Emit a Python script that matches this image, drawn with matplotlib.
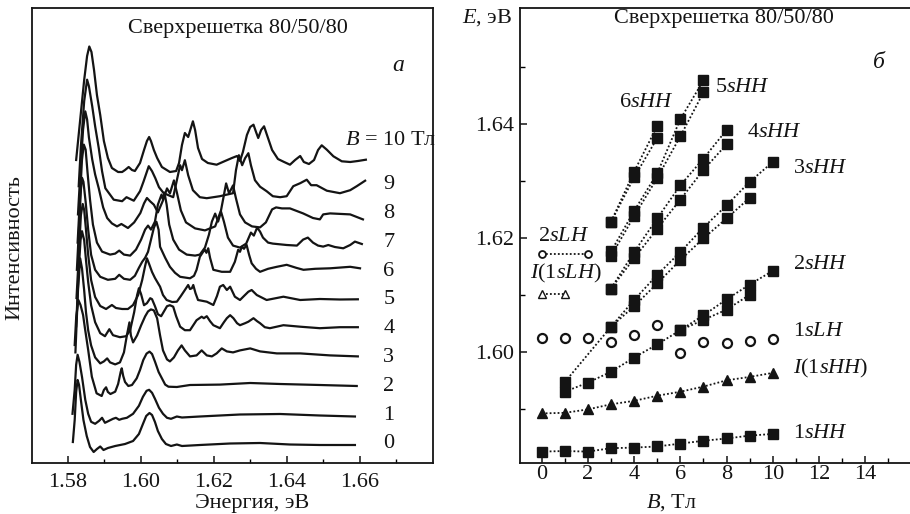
import matplotlib
matplotlib.use("Agg")
import matplotlib.pyplot as plt
import numpy as np

plt.rcParams['font.family'] = ['Liberation Serif', 'DejaVu Serif']
plt.rcParams['mathtext.fontset'] = 'custom'
plt.rcParams['mathtext.rm'] = 'Liberation Serif'
plt.rcParams['mathtext.it'] = 'Liberation Serif:italic'

# ---------------- panel a: spectra (energy, eV ; intensity, arb. units) ----------------
E_B0 = [1.5814,1.5819,1.5823,1.5827,1.5831,1.5836,1.5843,1.5852,1.5861,1.5871,1.5880,1.5889,1.5898,1.5910,1.5930,1.5957,1.5979,1.5995,1.6006,1.6015,1.6024,1.6031,1.6039,1.6047,1.6058,1.6069,1.6083,1.6099,1.6113,1.6162,1.6245,1.6327,1.6409,1.6491,1.6587]
I_B0 = [3,25,53,65,60,45,25,9,-2,-7,-4,-1.5,-5,-3,-1,1,4,11,21,29,32,30,23,14,6,1,-1,0.5,-1,0,1.5,2,0.5,0,0]

E_B1 = [1.5813,1.5819,1.5823,1.5827,1.5832,1.5839,1.5848,1.5856,1.5864,1.5875,1.5886,1.5894,1.5902,1.5913,1.5924,1.5932,1.5941,1.5949,1.5962,1.5979,1.5995,1.6006,1.6016,1.6023,1.6031,1.6039,1.6050,1.6061,1.6072,1.6083,1.6099,1.6113,1.6162,1.6272,1.6382,1.6491,1.6587]
I_B1 = [3,27,52,62,55,40,17,3,-5,-7,-4,-1,-6,-4,-2,-1,-3,-2,-1,3,11,20,26,27,24,18,9,3,-1,-2,0.3,-0.7,0.3,2.3,2.8,1.3,0.3]

E_B2 = [1.5819,1.5823,1.5829,1.5835,1.5842,1.5847,1.5856,1.5866,1.5879,1.5893,1.5899,1.5905,1.5910,1.5917,1.5930,1.5938,1.5945,1.5948,1.5952,1.5957,1.5966,1.5976,1.5989,1.5998,1.6007,1.6016,1.6024,1.6031,1.6039,1.6049,1.6058,1.6067,1.6076,1.6099,1.6135,1.6217,1.6300,1.6382,1.6491,1.6592]
I_B2 = [43.6,70.6,88.6,83.6,73.6,60.6,38.6,11.9,-4.7,-7.4,-1.4,1.3,-3.4,-5.4,-3.1,4.6,16.6,20.3,12.6,6.6,2.6,3.6,10.3,18.6,28.6,35,37,34.6,27,16.6,10.3,4,1.9,1.6,3.6,4,5.6,4.6,3.6,2.6]

E_B3 = [1.5821,1.5828,1.5834,1.5839,1.5845,1.5850,1.5856,1.5864,1.5875,1.5889,1.5899,1.5908,1.5916,1.5930,1.5943,1.5954,1.5962,1.5969,1.5973,1.5979,1.5990,1.6001,1.6012,1.6020,1.6028,1.6036,1.6045,1.6053,1.6061,1.6072,1.6080,1.6091,1.6102,1.6112,1.6121,1.6135,1.6153,1.6167,1.6181,1.6195,1.6208,1.6222,1.6236,1.6253,1.6272,1.6300,1.6327,1.6373,1.6437,1.6519,1.6595]
I_B3 = [8,70,102,92,70,48,30,15,3,-3,-1,2,-2,-4,-2,8,25,38,25,18,25,35,44,49,51,50,42,25,10,1,-1,3,10,15,10,4,5,10,5,4,7,12,9,8,10,12,9,7,7,5,4]

E_B4 = [1.5823,1.5830,1.5835,1.5839,1.5845,1.5850,1.5856,1.5864,1.5875,1.5889,1.5902,1.5914,1.5924,1.5943,1.5960,1.5971,1.5982,1.5990,1.5995,1.6001,1.6009,1.6017,1.6026,1.6031,1.6039,1.6047,1.6056,1.6064,1.6072,1.6080,1.6089,1.6097,1.6108,1.6121,1.6135,1.6153,1.6167,1.6173,1.6181,1.6190,1.6199,1.6217,1.6228,1.6236,1.6245,1.6254,1.6264,1.6272,1.6286,1.6295,1.6309,1.6319,1.6327,1.6340,1.6354,1.6391,1.6437,1.6491,1.6546,1.6595]
I_B4 = [6,62,92,101,92,72,50,27,10,-1,-4,3,-3,-5,-4,2,20,37,44,38,27,29,34,33,26,18,16,21,26,27,25.5,16,5.5,2,2,12,15.5,14,16,11,7,4,10,14,17,14,9,7,9,10.5,14,11,9,5,4,7,5.5,4,5,5]

E_B5 = [1.5824,1.5831,1.5836,1.5841,1.5845,1.5850,1.5856,1.5864,1.5875,1.5889,1.5905,1.5921,1.5932,1.5949,1.5965,1.5979,1.5993,1.6004,1.6012,1.6017,1.6023,1.6031,1.6039,1.6047,1.6053,1.6061,1.6071,1.6086,1.6099,1.6110,1.6121,1.6130,1.6135,1.6140,1.6144,1.6150,1.6157,1.6181,1.6199,1.6209,1.6217,1.6226,1.6236,1.6245,1.6258,1.6272,1.6283,1.6295,1.6304,1.6318,1.6345,1.6391,1.6437,1.6491,1.6546,1.6595]
I_B5 = [6,54,89,100,94,74,49,24,7,-2,-5,-1,-4,-5,-5,-1,9,24,38,45.7,40,32,26,21,17.3,9,4,2,2.3,8,14,19,15,15.7,19,11,4,2.3,-1,8,17.3,19,14,17.3,7.3,4,8,12.3,14,9,4,7.3,4,5,4.5,4.7]

E_B6 = [1.5825,1.5832,1.5836,1.5839,1.5843,1.5849,1.5856,1.5864,1.5875,1.5889,1.5910,1.5930,1.5941,1.5954,1.5971,1.5984,1.5995,1.6004,1.6012,1.6020,1.6028,1.6036,1.6043,1.6049,1.6053,1.6067,1.6080,1.6094,1.6108,1.6135,1.6146,1.6153,1.6162,1.6171,1.6176,1.6180,1.6185,1.6190,1.6199,1.6222,1.6245,1.6258,1.6267,1.6272,1.6277,1.6283,1.6290,1.6297,1.6304,1.6316,1.6327,1.6349,1.6373,1.6400,1.6426,1.6446,1.6478,1.6519,1.6574,1.6601]
I_B6 = [6,56,86,98,94,74,46,21,6,-1,-4,-3,1,-3,-4,0,8,14,18,24,36,48,54,46,29,18,9,3,-1,-2.5,0,6,19,24,26,23,27.5,18,6,4,4,14,26,24,29,27,31,21,12.5,7,4,7,9,11,8,6,7,7.5,9,7.5]

E_B7 = [1.5827,1.5834,1.5839,1.5844,1.5849,1.5854,1.5861,1.5869,1.5880,1.5894,1.5916,1.5930,1.5941,1.5954,1.5971,1.5987,1.6001,1.6012,1.6020,1.6028,1.6039,1.6047,1.6057,1.6061,1.6065,1.6071,1.6078,1.6089,1.6105,1.6126,1.6149,1.6162,1.6176,1.6187,1.6195,1.6204,1.6212,1.6220,1.6228,1.6239,1.6253,1.6272,1.6289,1.6302,1.6310,1.6319,1.6327,1.6335,1.6349,1.6362,1.6400,1.6428,1.6445,1.6458,1.6472,1.6486,1.6500,1.6514,1.6532,1.6555,1.6574,1.6587,1.6606]
I_B7 = [5,53,88,103,98,76,48,23,5,-4,-7,-6,-3,-7,-8,-2,8,18,22,18,26,43,53,48,55,43,23,8,-2,-7,-8,-7,0,13,26,34,26,36,26,10,2,0,4,15,12,20,16,10,5,4,2.6,2,8,10,5,2,1,2.6,0.6,-0.7,2.6,6,3.6]

E_B8 = [1.5828,1.5835,1.5842,1.5848,1.5853,1.5858,1.5867,1.5875,1.5885,1.5897,1.5908,1.5921,1.5935,1.5947,1.5965,1.5982,1.5999,1.6009,1.6017,1.6026,1.6036,1.6047,1.6061,1.6072,1.6080,1.6091,1.6099,1.6110,1.6124,1.6149,1.6176,1.6204,1.6220,1.6234,1.6242,1.6253,1.6261,1.6272,1.6286,1.6305,1.6327,1.6343,1.6360,1.6371,1.6387,1.6409,1.6445,1.6472,1.6491,1.6500,1.6519,1.6574,1.6609]
I_B8 = [5,50,90,108,100,82,60,45,31,12,1.4,-4,-7,-4.6,-8.6,-3,6.4,16,21.4,18,14.7,7,19,31,26,39,27,9,-3,-9,-11,-7,9,36,26,34,21,5,-3,-7,-8,-3,10,12,11,11,6,1.4,0,5,6,5,0]

E_B9 = [1.5830,1.5836,1.5845,1.5853,1.5858,1.5867,1.5875,1.5885,1.5894,1.5903,1.5926,1.5949,1.5961,1.5981,1.5998,1.6008,1.6022,1.6031,1.6040,1.6050,1.6063,1.6089,1.6099,1.6108,1.6113,1.6121,1.6130,1.6143,1.6162,1.6181,1.6217,1.6253,1.6261,1.6269,1.6278,1.6286,1.6295,1.6302,1.6313,1.6327,1.6345,1.6362,1.6382,1.6400,1.6418,1.6437,1.6455,1.6467,1.6482,1.6510,1.6546,1.6574,1.6592,1.6615]
I_B9 = [5,45,90,111.5,105,85,65,43,20,3,-8.5,-10,-6,-9.5,0,10,25,20,13,4,-2,-6,11,26,21,31,16,1,-6,-7,-5,-2,21,36,26,33,38,26,11,4.5,0,-5,-6,-5,5,8,11.5,6,6,0.5,-2,1,5,10.5]

E_B10 = [1.5823,1.5834,1.5845,1.5853,1.5859,1.5865,1.5872,1.5880,1.5889,1.5899,1.5910,1.5921,1.5938,1.5949,1.5957,1.5967,1.5976,1.5984,1.5998,1.6009,1.6017,1.6023,1.6028,1.6036,1.6045,1.6058,1.6080,1.6097,1.6105,1.6113,1.6121,1.6130,1.6143,1.6149,1.6157,1.6168,1.6184,1.6208,1.6231,1.6250,1.6264,1.6272,1.6280,1.6291,1.6300,1.6309,1.6316,1.6322,1.6330,1.6338,1.6346,1.6360,1.6376,1.6393,1.6409,1.6423,1.6437,1.6447,1.6461,1.6475,1.6486,1.6496,1.6510,1.6528,1.6551,1.6574,1.6595,1.6617]
I_B10 = [3,43,83,107,116.5,111,93,68,48,22,5,-5,-9,-9,-7,-4,-7,-8,0,13,22,26,22,13,5,-4,-9,-8,0,18,30,26,41.7,33,15,4,0,-1.7,2,5,7,2,11,28,36,38.3,31,25,33,36.7,28,13,4,1,-1.7,3,7,1,-1,3,13,17.7,13.3,6.7,1.7,1,2,3.3]

field_labels = ['0', '1', '2', '3', '4', '5', '6', '7', '8', '9']

# ---------------- panel б: level energies vs B ----------------
B_1sHH = [0, 1, 2, 3, 4, 5, 6, 7, 8, 9, 10]
E_1sHH = [1.5825, 1.5826, 1.5825, 1.5831, 1.5832, 1.5834, 1.5839, 1.5844, 1.5848, 1.5853, 1.5856]
B_I1sHH = [0, 1, 2, 3, 4, 5, 6, 7, 8, 9, 10]
E_I1sHH = [1.5892, 1.5893, 1.5899, 1.5908, 1.5914, 1.5923, 1.5930, 1.5939, 1.5950, 1.5956, 1.5963]
B_1sLH = [0, 1, 2, 3, 4, 5, 6, 7, 8, 9, 10]
E_1sLH = [1.6024, 1.6025, 1.6024, 1.6018, 1.6029, 1.6047, 1.5998, 1.6018, 1.6015, 1.6019, 1.6022]
B_2sLH = [0, 2]
E_2sLH = [1.6172, 1.6172]
B_I1sLH = [0, 1]
E_I1sLH = [1.6101, 1.6101]
B_2sHH_a = [1, 2, 3, 4, 5, 6, 7, 8, 9, 10]
E_2sHH_a = [1.5930, 1.5946, 1.5965, 1.5990, 1.6013, 1.6038, 1.6064, 1.6092, 1.6118, 1.6142]
B_2sHH_b = [6, 7, 8, 9]
E_2sHH_b = [1.6038, 1.6056, 1.6074, 1.6100]
B_3sHH_a = [1, 3, 4, 5, 6, 7, 8, 9, 10]
E_3sHH_a = [1.5947, 1.6044, 1.6091, 1.6135, 1.6175, 1.6218, 1.6257, 1.6298, 1.6333]
B_3sHH_b = [3, 4, 5, 6, 7, 8, 9]
E_3sHH_b = [1.6044, 1.6080, 1.6120, 1.6161, 1.6199, 1.6234, 1.6270]
B_4sHH_a = [3, 4, 5, 6, 7, 8]
E_4sHH_a = [1.6111, 1.6175, 1.6234, 1.6292, 1.6339, 1.6389]
B_4sHH_b = [3, 4, 5, 6, 7, 8]
E_4sHH_b = [1.6111, 1.6164, 1.6216, 1.6267, 1.6319, 1.6364]
B_5sHH_a = [3, 4, 5, 6, 7]
E_5sHH_a = [1.6176, 1.6247, 1.6313, 1.6408, 1.6476]
B_5sHH_b = [3, 4, 5, 6, 7]
E_5sHH_b = [1.6168, 1.6238, 1.6305, 1.6378, 1.6455]
B_6sHH_a = [3, 4, 5]
E_6sHH_a = [1.6228, 1.6316, 1.6396]
B_6sHH_b = [3, 4, 5]
E_6sHH_b = [1.6228, 1.6306, 1.6375]

TITLE = 'Сверхрешетка 80/50/80'

# ---------------- figure ----------------
fig = plt.figure(figsize=(9.10, 5.14), dpi=100)
ax1 = fig.add_axes([32/910, 51/514, 401/910, 455/514])
ax2 = fig.add_axes([520/910, 51/514, 390/910, 455/514])

INK = '#141414'
OFFSET = 28.2
spectra = [(E_B0, I_B0), (E_B1, I_B1), (E_B2, I_B2), (E_B3, I_B3), (E_B4, I_B4),
           (E_B5, I_B5), (E_B6, I_B6), (E_B7, I_B7), (E_B8, I_B8), (E_B9, I_B9),
           (E_B10, I_B10)]
for k, (e, i) in enumerate(spectra):
    ax1.plot(e, np.asarray(i) + OFFSET * k, color=INK, lw=1.6, solid_joinstyle='round')

ax1.set_xlim(1.5702, 1.6801)
ax1.set_ylim(-18, 437)
ax1.set_xticks([1.58, 1.60, 1.62, 1.64, 1.66])
ax1.set_xticklabels(['1.58', '1.60', '1.62', '1.64', '1.66'])
ax1.set_xticks([1.59, 1.61, 1.63, 1.65, 1.67], minor=True)
ax1.set_yticks([])
ax1.tick_params(axis='x', which='major', direction='in', length=5, width=1.1,
                labelsize=16, pad=7, colors=INK)
ax1.tick_params(axis='x', which='minor', direction='in', length=3, width=1.0)
for s in ax1.spines.values():
    s.set_linewidth(1.3)
    s.set_color(INK)

ax1.text(0.514, 0.956, TITLE, transform=ax1.transAxes, ha='center', va='center', fontsize=16, color=INK)
ax1.text(0.913, 0.873, 'а', transform=ax1.transAxes, ha='center', va='center', fontsize=17,
         style='italic', color=INK)
ax1.text(0.781, 0.708, r'$\mathit{B}$ = 10 Тл', transform=ax1.transAxes, ha='left', va='center',
         fontsize=16, color=INK)
for k, lab in enumerate(field_labels):
    ax1.text(1.6680, 1 + 28.8 * k, lab, ha='center', va='center', fontsize=16, color=INK)
ax1.text(0.549, -0.090, 'Энергия, эВ', transform=ax1.transAxes, ha='center', va='center',
         fontsize=16, color=INK)
ax1.text(-0.042, 0.473, 'Интенсивность', transform=ax1.transAxes, ha='center', va='center',
         rotation=90, fontsize=16, color=INK)

# right panel
dot = dict(color=INK, ls=(0, (1, 1.2)), lw=1.3)
sq = dict(marker='s', ms=6.5, mfc=INK, mec=INK)
for b, e in [(B_1sHH, E_1sHH), (B_2sHH_a, E_2sHH_a), (B_2sHH_b, E_2sHH_b),
             (B_3sHH_a, E_3sHH_a), (B_3sHH_b, E_3sHH_b), (B_4sHH_a, E_4sHH_a),
             (B_4sHH_b, E_4sHH_b), (B_5sHH_a, E_5sHH_a), (B_5sHH_b, E_5sHH_b),
             (B_6sHH_a, E_6sHH_a), (B_6sHH_b, E_6sHH_b)]:
    ax2.plot(b, e, **dot, **sq)
ax2.plot(B_I1sHH, E_I1sHH, marker='^', ms=7, mfc=INK, mec=INK, **dot)
ax2.plot(B_1sLH, E_1sLH, ls='none', marker='o', ms=6.5, mfc='white', mec=INK, mew=1.6)
ax2.plot(B_2sLH, E_2sLH, marker='o', ms=5, mfc='white', mec=INK, mew=1.3, **dot)
ax2.plot(B_I1sLH, E_I1sLH, marker='^', ms=5.5, mfc='white', mec=INK, mew=1.0, **dot)

ax2.set_xlim(-0.94, 15.94)
ax2.set_ylim(1.5805, 1.6603)
ax2.set_xticks([0, 2, 4, 6, 8, 10, 12, 14])
ax2.set_xticks([1, 3, 5, 7, 9, 11, 13, 15], minor=True)
ax2.set_yticks([1.60, 1.62, 1.64])
ax2.set_yticklabels(['1.60', '1.62', '1.64'])
ax2.set_yticks([1.59, 1.61, 1.63, 1.65], minor=True)
ax2.tick_params(axis='both', which='major', direction='in', length=5, width=1.1,
                labelsize=16, colors=INK)
ax2.tick_params(axis='both', which='minor', direction='in', length=3.5, width=1.0)
ax2.tick_params(axis='x', which='major', pad=1.5)
ax2.tick_params(axis='y', which='major', pad=4.5)
for s in ax2.spines.values():
    s.set_linewidth(1.3)
    s.set_color(INK)
ax2.spines['right'].set_visible(False)

ax2.text(0.524, 0.978, TITLE, transform=ax2.transAxes, ha='center', va='center', fontsize=16, color=INK)
ax2.text(-0.085, 0.978, r'$\mathit{E}$, эВ', transform=ax2.transAxes, ha='center', va='center',
         fontsize=16, color=INK)
ax2.text(0.920, 0.881, 'б', transform=ax2.transAxes, ha='center', va='center', fontsize=17,
         style='italic', color=INK)
ax2.text(0.387, -0.088, r'$\mathit{B}$, Тл', transform=ax2.transAxes, ha='center', va='center',
         fontsize=16, color=INK)

lab_kw = dict(fontsize=16, color=INK, va='center')
ax2.text(4.52, 1.6438, r'6$\mathit{sHH}$', ha='center', **lab_kw)
ax2.text(7.51, 1.6463, r'5$\mathit{sHH}$', ha='left', **lab_kw)
ax2.text(8.89, 1.6385, r'4$\mathit{sHH}$', ha='left', **lab_kw)
ax2.text(10.88, 1.6322, r'3$\mathit{sHH}$', ha='left', **lab_kw)
ax2.text(10.88, 1.6154, r'2$\mathit{sHH}$', ha='left', **lab_kw)
ax2.text(10.88, 1.6036, r'1$\mathit{sLH}$', ha='left', **lab_kw)
ax2.text(10.88, 1.5971, r'$\mathit{I}$(1$\mathit{sHH}$)', ha='left', **lab_kw)
ax2.text(10.88, 1.5857, r'1$\mathit{sHH}$', ha='left', **lab_kw)
ax2.text(-0.16, 1.6203, r'2$\mathit{sLH}$', ha='left', **lab_kw)
ax2.text(-0.51, 1.6138, r'$\mathit{I}$(1$\mathit{sLH}$)', ha='left', **lab_kw)

fig.savefig('out.png', dpi=100, facecolor='white')
